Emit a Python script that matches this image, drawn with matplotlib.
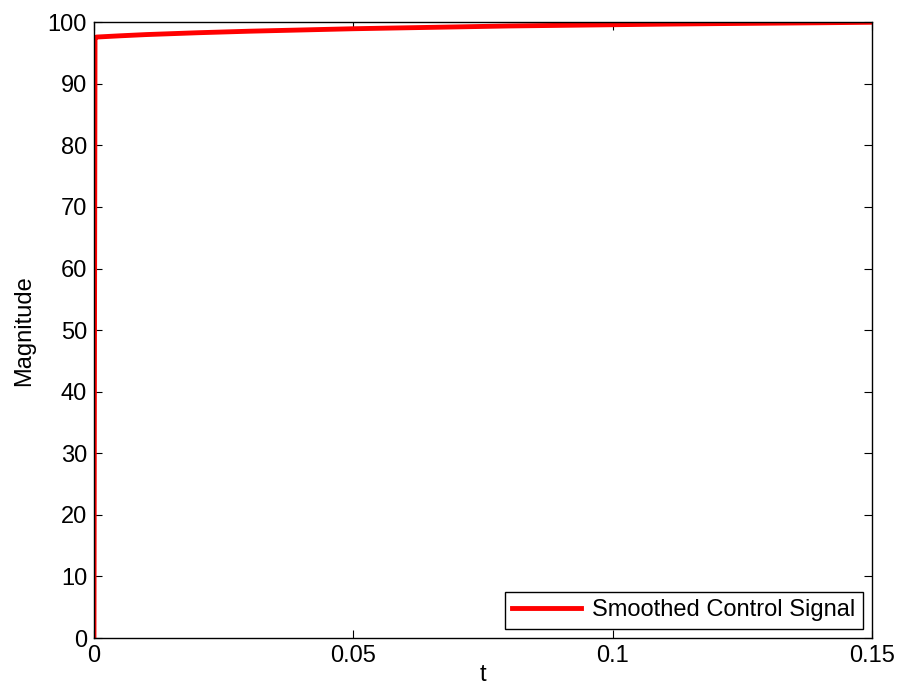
import matplotlib
matplotlib.use('Agg')
import matplotlib.pyplot as plt

# smoothed control signal samples
t = [0.0, 0.0002, 0.0005, 0.005, 0.01, 0.02, 0.03, 0.04, 0.05, 0.06, 0.07,
     0.08, 0.09, 0.10, 0.11, 0.12, 0.13, 0.14, 0.15]
mag = [0.0, 97.5, 97.6, 97.8, 98.0, 98.3, 98.55, 98.75, 98.95, 99.1, 99.25,
       99.4, 99.5, 99.6, 99.7, 99.78, 99.85, 99.92, 100.0]

plt.rcParams['font.family'] = ['Liberation Sans', 'DejaVu Sans']
plt.rcParams['font.size'] = 17

fig = plt.figure(figsize=(9.02, 6.96), dpi=100)
ax = fig.add_axes([0.1042, 0.0833, 0.8628, 0.8847])
ax.plot(t, mag, color='#ff0000', lw=3.5, label='Smoothed Control Signal')
ax.set_xlim(0, 0.15)
ax.set_ylim(0, 100)
ax.set_xticks([0, 0.05, 0.1, 0.15])
ax.set_xticklabels(['0', '0.05', '0.1', '0.15'])
ax.set_yticks(range(0, 101, 10))
ax.tick_params(direction='in', top=True, right=True, length=6, width=0.8, pad=5)
for s in ax.spines.values():
    s.set_linewidth(1.0)
ax.set_xlabel('t', labelpad=-2)
ax.set_ylabel('Magnitude', labelpad=9)
leg = ax.legend(loc='lower right', fancybox=False, framealpha=1,
                edgecolor='black', borderaxespad=0.4, handlelength=2.9,
                borderpad=0.3, handletextpad=0.5)
leg.get_frame().set_linewidth(1.0)
fig.savefig('out.png', dpi=100)
